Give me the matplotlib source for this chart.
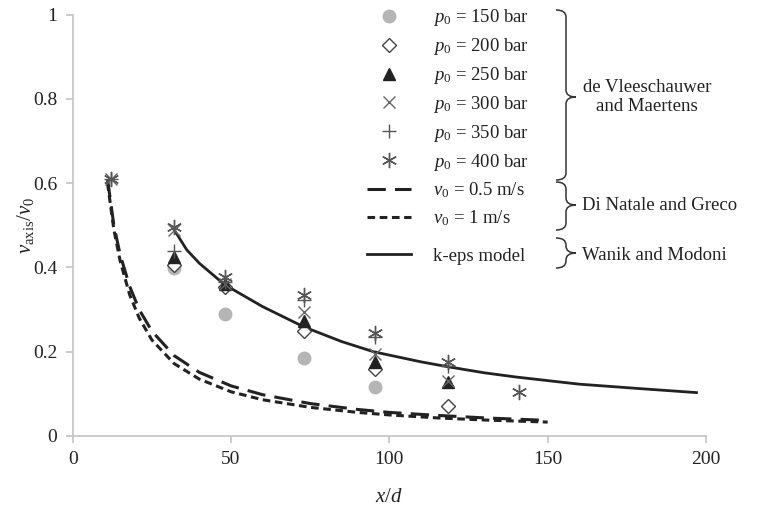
import matplotlib.pyplot as plt
from matplotlib.path import Path
from matplotlib.patches import PathPatch
from matplotlib.lines import Line2D

plt.rcParams['font.family'] = 'Liberation Serif'
plt.rcParams['mathtext.fontset'] = 'custom'
plt.rcParams['mathtext.rm'] = 'Liberation Serif'
plt.rcParams['mathtext.it'] = 'Liberation Serif:italic'

# measured centreline velocity decay for each injection pressure
x150 = [32, 48, 73, 95.5]
y150 = [0.398, 0.29, 0.186, 0.117]
x200 = [32, 48, 73, 95.5, 118.5]
y200 = [0.405, 0.354, 0.25, 0.16, 0.072]
x250 = [32, 48, 73, 95.5, 118.5]
y250 = [0.425, 0.36, 0.272, 0.175, 0.127]
x300 = [12, 32, 48, 73, 95.5, 118.5]
y300 = [0.61, 0.49, 0.36, 0.295, 0.195, 0.13]
x350 = [12, 32, 48, 73, 95.5, 118.5]
y350 = [0.61, 0.44, 0.365, 0.323, 0.235, 0.165]
x400 = [12, 32, 48, 73, 95.5, 118.5, 141]
y400 = [0.61, 0.495, 0.378, 0.335, 0.245, 0.176, 0.104]

# Di Natale and Greco correlations
xdn = [11, 13, 15, 18, 21, 25, 32, 40, 50, 60, 75, 90, 100, 115, 130, 150]
ydn05 = [0.61, 0.50, 0.43, 0.355, 0.30, 0.249, 0.191, 0.151, 0.119, 0.098,
         0.077, 0.063, 0.056, 0.049, 0.043, 0.037]
ydn1 = [0.60, 0.49, 0.415, 0.335, 0.28, 0.228, 0.172, 0.135, 0.105, 0.086,
        0.068, 0.056, 0.05, 0.043, 0.038, 0.033]

# k-eps model (Wanik and Modoni)
xke = [32, 36, 40, 48, 60, 73, 85, 95, 110, 118, 130, 140, 160, 180, 197]
yke = [0.49, 0.442, 0.41, 0.359, 0.307, 0.259, 0.224, 0.20, 0.176, 0.165,
       0.15, 0.14, 0.123, 0.112, 0.103]

xticks = [0, 50, 100, 150, 200]
yticks = [0, 0.2, 0.4, 0.6, 0.8, 1]
yticklabels = ['0', '0.2', '0.4', '0.6', '0.8', '1']

W, H = 758, 509
fig = plt.figure(figsize=(W / 100, H / 100), dpi=100)
ax = fig.add_axes([72.7 / W, 1 - 436 / H, (706 - 72.7) / W, (436 - 14.7) / H])

dark = '#222222'
s150 = dict(marker='o', ls='none', ms=9, mfc='#b5b5b5', mec='#b5b5b5')
s200 = dict(marker='D', ls='none', ms=7, mfc='white', mec='#444444', mew=1)
s250 = dict(marker='^', ls='none', ms=8, mfc=dark, mec=dark)
s300 = dict(marker='x', ls='none', ms=9, mec='#666666', mew=1)
s350 = dict(marker='+', ls='none', ms=10, mec='#555555', mew=1)
s400 = dict(marker=(6, 2, 0), ls='none', ms=11, mec='#555555', mew=1)
l05 = dict(color=dark, lw=2.2, dashes=(6, 3))
l1 = dict(color=dark, lw=2.2, dashes=(2.5, 1.5))
lke = dict(color=dark, lw=2.0)

ax.plot(xdn, ydn05, **l05)
ax.plot(xdn, ydn1, **l1)
ax.plot(xke, yke, **lke)
ax.plot(x150, y150, **s150)
ax.plot(x200, y200, **s200)
ax.plot(x250, y250, **s250)
ax.plot(x300, y300, **s300)
ax.plot(x350, y350, **s350)
ax.plot(x400, y400, **s400)

ax.set_xlim(0, 200)
ax.set_ylim(0, 1)
ax.set_xticks(xticks)
ax.set_yticks(yticks)
ax.set_yticklabels(yticklabels)
for side in ['top', 'right']:
    ax.spines[side].set_visible(False)
for side in ['left', 'bottom']:
    ax.spines[side].set_color('#c4c4c4')
    ax.spines[side].set_linewidth(1.2)
ax.tick_params(length=5, width=1.2, color='#c4c4c4', labelsize=14,
               labelcolor=dark, pad=6)
ax.set_xlabel(r'$x/d$', fontsize=15, color=dark, labelpad=14)
ax.set_ylabel(r'$\nu_{\mathrm{axis}}/\nu_0$', fontsize=15, color=dark, labelpad=-2)

handles = [Line2D([], [], **s150), Line2D([], [], **s200), Line2D([], [], **s250),
           Line2D([], [], **s300), Line2D([], [], **s350), Line2D([], [], **s400),
           Line2D([], [], **l05), Line2D([], [], **l1)]
labels = [r'$p_0$ = 150 bar', r'$p_0$ = 200 bar', r'$p_0$ = 250 bar',
          r'$p_0$ = 300 bar', r'$p_0$ = 350 bar', r'$p_0$ = 400 bar',
          r'$\nu_0$ = 0.5 m/s', r'$\nu_0$ = 1 m/s']
leg_kw = dict(loc='upper left', bbox_transform=fig.transFigure, frameon=False,
              fontsize=13.5, borderpad=0, handlelength=2.3, handletextpad=1.2,
              labelspacing=0.42, labelcolor=dark)
leg = ax.legend(handles, labels, bbox_to_anchor=(358 / W, 1 + 2 / H), **leg_kw)
ax.add_artist(leg)
ax.legend([Line2D([], [], **lke)], ['k-eps model'],
          bbox_to_anchor=(358 / W, 1 - 238 / H), **leg_kw)


def brace(x0, top, bottom, tip, w=20, r=7):
    # right-facing curly bracket, pixel coordinates measured from the top
    xm = x0 + w / 2
    pts = [(x0, top), (xm, top), (xm, top + r), (xm, tip - r), (xm, tip),
           (x0 + w, tip), (xm, tip), (xm, tip + r), (xm, bottom - r),
           (xm, bottom), (x0, bottom)]
    codes = [Path.MOVETO, Path.CURVE3, Path.CURVE3, Path.LINETO, Path.CURVE3,
             Path.CURVE3, Path.CURVE3, Path.CURVE3, Path.LINETO, Path.CURVE3,
             Path.CURVE3]
    verts = [(px / W, 1 - py / H) for px, py in pts]
    fig.patches.append(PathPatch(Path(verts, codes), transform=fig.transFigure,
                                 fill=False, ec='#333333', lw=1.1))


brace(556, 10, 180, 97)
brace(556, 182, 230, 205)
brace(556, 238, 268, 253)
fig.text(647 / W, 1 - 97 / H, 'de Vleeschauwer\nand Maertens', ha='center',
         va='center', fontsize=13.5, color=dark, linespacing=1.1)
fig.text(582 / W, 1 - 205 / H, 'Di Natale and Greco', ha='left', va='center',
         fontsize=13.5, color=dark)
fig.text(582 / W, 1 - 255 / H, 'Wanik and Modoni', ha='left', va='center',
         fontsize=13.5, color=dark)

fig.savefig('out.png', dpi=100)
